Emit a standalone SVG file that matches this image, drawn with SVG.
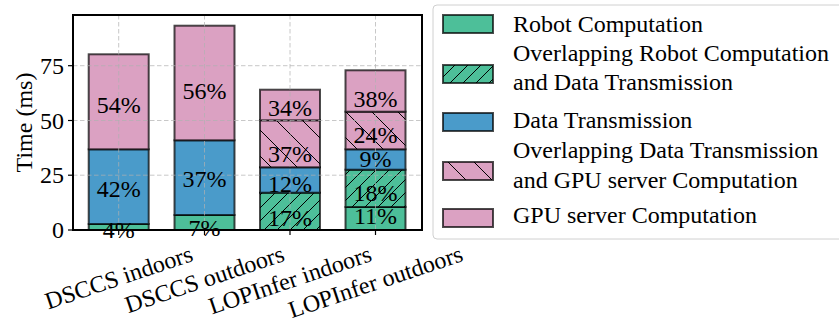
<svg xmlns="http://www.w3.org/2000/svg" width="839" height="322" viewBox="0 0 839 322">
<style>
text{font-family:"Liberation Serif","Times New Roman",serif;font-size:24px;fill:#000}
.g{fill:#4dbf99}.b{fill:#4a9bca}.p{fill:#dba1c2}
.seg{stroke:#000;stroke-opacity:0.7;stroke-width:2}
.grid{stroke:#b0b0b0;stroke-opacity:0.7;stroke-width:1;stroke-dasharray:4.5 2.5;fill:none}
.pct{text-anchor:middle}
.tick{stroke:#000;stroke-width:1.2}
.ytl{text-anchor:end}
</style>
<defs>
<pattern id="hg" patternUnits="userSpaceOnUse" width="13" height="13">
<path d="M0,13 L13,0 M-2,2 L2,-2 M11,15 L15,11" stroke="#000" stroke-width="1" fill="none"/>
</pattern>
<pattern id="hp" patternUnits="userSpaceOnUse" width="26" height="26">
<path d="M0,0 L26,26 M-2,24 L2,28 M24,-2 L28,2" stroke="#000" stroke-width="1" fill="none"/>
</pattern>
</defs>
<rect width="839" height="322" fill="#fff"/>
<g id="bar1">
<rect class="g seg" x="88.7" y="224" width="60" height="6"/>
<rect class="b seg" x="88.7" y="149.3" width="60" height="74.7"/>
<rect class="p seg" x="88.7" y="54.3" width="60" height="95"/>
</g>
<g id="bar2">
<rect class="g seg" x="174.5" y="215" width="60" height="15"/>
<rect class="b seg" x="174.5" y="140.3" width="60" height="74.7"/>
<rect class="p seg" x="174.5" y="25.7" width="60" height="114.6"/>
</g>
<g id="bar3">
<rect class="g" x="260" y="192.7" width="60" height="37.3"/>
<rect fill="url(#hg)" class="seg" x="260" y="192.7" width="60" height="37.3"/>
<rect class="b seg" x="260" y="167.3" width="60" height="25.4"/>
<rect class="p" x="260" y="120.3" width="60" height="47"/>
<rect fill="url(#hp)" class="seg" x="260" y="120.3" width="60" height="47"/>
<rect class="p seg" x="260" y="89.7" width="60" height="30.6"/>
</g>
<g id="bar4">
<rect class="g seg" x="345.5" y="207" width="60" height="23"/>
<rect class="g" x="345.5" y="169.7" width="60" height="37.3"/>
<rect fill="url(#hg)" class="seg" x="345.5" y="169.7" width="60" height="37.3"/>
<rect class="b seg" x="345.5" y="149.3" width="60" height="20.4"/>
<rect class="p" x="345.5" y="111.7" width="60" height="37.6"/>
<rect fill="url(#hp)" class="seg" x="345.5" y="111.7" width="60" height="37.6"/>
<rect class="p seg" x="345.5" y="70.3" width="60" height="41.4"/>
</g>
<g id="grid">
<line class="grid" x1="73" y1="175.2" x2="422" y2="175.2"/>
<line class="grid" x1="73" y1="120.5" x2="422" y2="120.5"/>
<line class="grid" x1="73" y1="65.7" x2="422" y2="65.7"/>
<line class="grid" x1="118.7" y1="15" x2="118.7" y2="230"/>
<line class="grid" x1="204.5" y1="15" x2="204.5" y2="230"/>
<line class="grid" x1="290" y1="15" x2="290" y2="230"/>
<line class="grid" x1="375.5" y1="15" x2="375.5" y2="230"/>
</g>
<g id="labels">
<text class="pct" x="118.7" y="113">54%</text>
<text class="pct" x="118.7" y="196.5">42%</text>
<text class="pct" x="118.7" y="238">4%</text>
<text class="pct" x="204.5" y="98.5">56%</text>
<text class="pct" x="204.5" y="186.5">37%</text>
<text class="pct" x="204.5" y="235.5">7%</text>
<text class="pct" x="290" y="116">34%</text>
<text class="pct" x="290" y="162">37%</text>
<text class="pct" x="290" y="192">12%</text>
<text class="pct" x="290" y="225.5">17%</text>
<text class="pct" x="375.5" y="107">38%</text>
<text class="pct" x="375.5" y="143">24%</text>
<text class="pct" x="375.5" y="167">9%</text>
<text class="pct" x="375.5" y="200.5">18%</text>
<text class="pct" x="375.5" y="224">11%</text>
</g>
<g id="axes">
<rect x="73" y="15" width="349" height="215" fill="none" stroke="#000" stroke-width="2"/>
<line class="tick" x1="68" y1="230" x2="73" y2="230"/>
<line class="tick" x1="68" y1="175.2" x2="73" y2="175.2"/>
<line class="tick" x1="68" y1="120.5" x2="73" y2="120.5"/>
<line class="tick" x1="68" y1="65.7" x2="73" y2="65.7"/>
<line class="tick" x1="118.7" y1="230" x2="118.7" y2="235"/>
<line class="tick" x1="204.5" y1="230" x2="204.5" y2="235"/>
<line class="tick" x1="290" y1="230" x2="290" y2="235"/>
<line class="tick" x1="375.5" y1="230" x2="375.5" y2="235"/>
<text class="ytl" x="64" y="238">0</text>
<text class="ytl" x="64" y="183.2">25</text>
<text class="ytl" x="64" y="128.5">50</text>
<text class="ytl" x="64" y="73.7">75</text>
<text text-anchor="middle" dominant-baseline="central" transform="translate(24,122.5) rotate(-90)">Time (ms)</text>
<text text-anchor="middle" dominant-baseline="central" transform="translate(118.7,277.4) rotate(-18.5)">DSCCS indoors</text>
<text text-anchor="middle" dominant-baseline="central" transform="translate(204.5,279.3) rotate(-18.5)">DSCCS outdoors</text>
<text text-anchor="middle" dominant-baseline="central" transform="translate(290,280) rotate(-18.5)">LOPInfer indoors</text>
<text text-anchor="middle" dominant-baseline="central" transform="translate(375.5,281.9) rotate(-18.5)">LOPInfer outdoors</text>
</g>
<g id="legend">
<rect x="433" y="5" width="420" height="234" rx="4" fill="#fff" stroke="#d0d0d0" stroke-width="1"/>
<rect class="g seg" x="443" y="15" width="50" height="18"/>
<rect class="g" x="443" y="65" width="50" height="18"/>
<rect fill="url(#hg)" class="seg" x="443" y="65" width="50" height="18"/>
<rect class="b seg" x="443" y="113" width="50" height="18"/>
<rect class="p" x="443" y="162" width="50" height="18"/>
<rect fill="url(#hp)" class="seg" x="443" y="162" width="50" height="18"/>
<rect class="p seg" x="443" y="209" width="50" height="18"/>
<text x="513" y="32">Robot Computation</text>
<text x="513" y="61">Overlapping Robot Computation</text>
<text x="513" y="90">and Data Transmission</text>
<text x="513" y="128">Data Transmission</text>
<text x="513" y="158">Overlapping Data Transmission</text>
<text x="513" y="188">and GPU server Computation</text>
<text x="513" y="223">GPU server Computation</text>
</g>
</svg>
